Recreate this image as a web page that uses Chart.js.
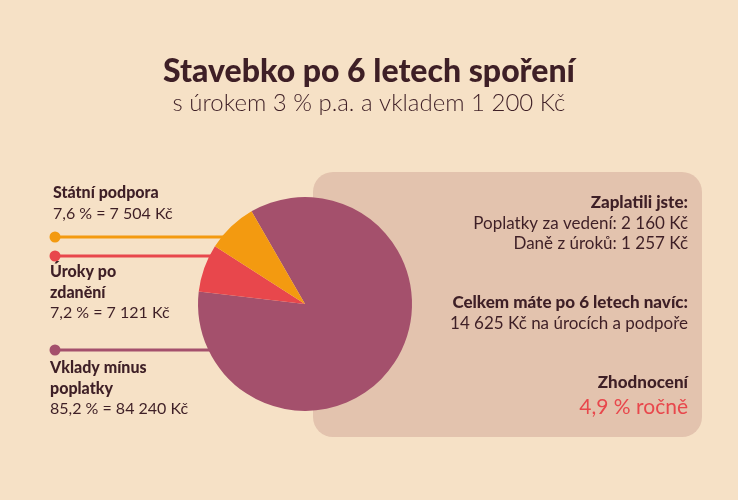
<!DOCTYPE html>
<html>
<head>
<meta charset="utf-8">
<script src="https://cdn.jsdelivr.net/npm/chart.js@4/dist/chart.umd.min.js"></script>
<style>
  html, body { margin: 0; padding: 0; background: #f6e1c6; }
  #wrap { width: 738px; height: 500px; }
</style>
</head>
<body>
<div id="wrap"><canvas id="chart" width="738" height="500"></canvas></div>
<script>
// data
const sliceNames = [["Vklady mínus", "poplatky"], ["Úroky po", "zdanění"], ["Státní podpora"]];
const sliceAmounts = [84240, 7121, 7504];
const feeLabels = ["Poplatky za vedení", "Daně z úroků"];
const feeAmounts = [2160, 1257];
const yearlyReturn = 4.9;
const years = 6;
const deposit = 1200;
const rate = 3;

const FONT = "Lato";
const INK = "#3e1f26";
const sliceColors = ["#a4506c", "#e8474c", "#f39a10"];

function kc(n) {
  return String(n).replace(/\B(?=(\d{3})+(?!\d))/g, " ") + " Kč";
}
function pct(v) {
  return v.toFixed(1).replace(".", ",") + " %";
}

const total = sliceAmounts.reduce((a, b) => a + b, 0);
const extra = sliceAmounts[1] + sliceAmounts[2];

// label blocks on the left: y of leader line, y of first text line
const labelPos = [
  { lineY: 350, textY: 368 },
  { lineY: 256, textY: 272 },
  { lineY: 237, textY: 193, above: true },
];

function text(ctx, str, x, y, size, weight, color, align) {
  ctx.font = `${weight} ${size}px ${FONT}`;
  ctx.fillStyle = color || INK;
  ctx.textAlign = align || "left";
  ctx.textBaseline = "middle";
  ctx.fillText(str, x, y);
}

const decor = {
  id: "decor",
  beforeDatasetsDraw(chart) {
    const ctx = chart.ctx;
    ctx.save();
    // right panel
    ctx.fillStyle = "#e3c3ae";
    ctx.beginPath();
    ctx.roundRect(313, 172, 389, 265, 20);
    ctx.fill();

    // leader lines
    const arc = chart.getDatasetMeta(0).data[0];
    const cx = arc.x, cy = arc.y, r = arc.outerRadius;
    labelPos.forEach((p, i) => {
      const dy = p.lineY - cy;
      const ex = cx - Math.sqrt(Math.max(r * r - dy * dy, 0)) + 2;
      ctx.strokeStyle = sliceColors[i];
      ctx.lineWidth = 3;
      ctx.beginPath();
      ctx.moveTo(55, p.lineY);
      ctx.lineTo(ex, p.lineY);
      ctx.stroke();
      ctx.fillStyle = sliceColors[i];
      ctx.beginPath();
      ctx.arc(55, p.lineY, 5.5, 0, Math.PI * 2);
      ctx.fill();
    });
    ctx.restore();
  },
  afterDatasetsDraw(chart) {
    const ctx = chart.ctx;
    ctx.save();
    // title
    text(ctx, `Stavebko po ${years} letech spoření`, 369, 72, 32, "900", INK, "center");
    text(ctx, `s úrokem ${rate} % p.a. a vkladem ${kc(deposit)}`, 369, 103, 24, "300", INK, "center");

    // slice labels
    labelPos.forEach((p, i) => {
      let y = p.textY;
      const x = p.above ? 53 : 50;
      sliceNames[i].forEach((line) => {
        text(ctx, line, x, y, 16, "900", INK);
        y += 20.5;
      });
      text(ctx, `${pct(sliceAmounts[i] / total * 100)} = ${kc(sliceAmounts[i])}`, x, y, 16, "400", INK);
    });

    // panel texts
    const rx = 688;
    text(ctx, "Zaplatili jste:", rx, 203, 17, "900", INK, "right");
    feeLabels.forEach((l, i) => {
      text(ctx, `${l}: ${kc(feeAmounts[i])}`, rx, 224 + i * 20, 17, "400", INK, "right");
    });
    text(ctx, `Celkem máte po ${years} letech navíc:`, rx, 303, 17, "900", INK, "right");
    text(ctx, `${kc(extra)} na úrocích a podpoře`, rx, 324, 17, "400", INK, "right");
    text(ctx, "Zhodnocení", rx, 383, 17, "900", INK, "right");
    text(ctx, `${pct(yearlyReturn)} ročně`, rx, 407, 21, "400", "#e8474c", "right");
    ctx.restore();
  },
};

new Chart(document.getElementById("chart"), {
  type: "pie",
  data: {
    labels: sliceNames.map((n) => n.join(" ")),
    datasets: [
      {
        data: sliceAmounts,
        backgroundColor: sliceColors,
        borderWidth: 0,
        hoverOffset: 0,
      },
    ],
  },
  options: {
    responsive: false,
    animation: false,
    rotation: -30,
    layout: { padding: { left: 198, right: 326, top: 197, bottom: 89 } },
    plugins: { legend: { display: false }, tooltip: { enabled: false }, title: { display: false } },
  },
  plugins: [decor],
});
</script>
</body>
</html>
